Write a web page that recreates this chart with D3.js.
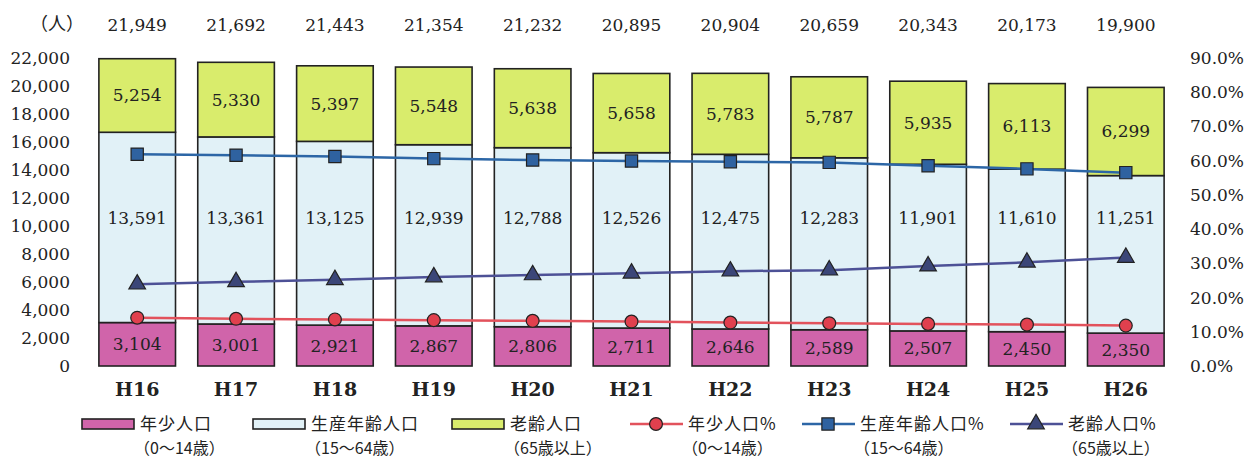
<!DOCTYPE html>
<html>
<head>
<meta charset="utf-8">
<script src="https://cdn.jsdelivr.net/npm/d3@7"></script>
<style>
body{margin:0;background:#fff;}
svg text{font-family:"DejaVu Serif","Liberation Serif",serif;fill:#222;}
.jp{font-family:"Noto Sans CJK JP",sans-serif;}
</style>
</head>
<body>
<svg id="chart" width="1250" height="459"></svg>
<script>

// ===============================
// DATA
// ===============================

const years=["H16","H17","H18","H19","H20","H21","H22","H23","H24","H25","H26"];

const young=[3104,3001,2921,2867,2806,2711,2646,2589,2507,2450,2350];

const working=[13591,13361,13125,12939,12788,12526,12475,12283,11901,11610,11251];

const elderly=[5254,5330,5397,5548,5638,5658,5783,5787,5935,6113,6299];

const totals=[21949,21692,21443,21354,21232,20895,20904,20659,20343,20173,19900];

const youngPct=[14.1,13.8,13.6,13.4,13.2,13.0,12.7,12.5,12.3,12.1,11.8];

const workingPct=[61.9,61.6,61.2,60.6,60.2,59.9,59.7,59.5,58.5,57.6,56.5];

const elderlyPct=[23.9,24.6,25.2,26.0,26.6,27.1,27.7,28.0,29.2,30.3,31.7];

const leftTicks=[0,2000,4000,6000,8000,10000,12000,14000,16000,18000,20000,22000];

const rightTicks=[0,10,20,30,40,50,60,70,80,90];

// ===============================
// SCALES
// ===============================

const svg=d3.select("#chart");

const x=d3.scaleBand()
    .domain(years)
    .range([89,1174])
    .paddingInner(0.225)
    .paddingOuter(0.1);

const y=d3.scaleLinear()
    .domain([0,22000])
    .range([366,58]);

const yPct=d3.scaleLinear()
    .domain([0,90])
    .range([366,58]);

const fmt=d3.format(",");

// ===============================
// AXES
// ===============================

const leftAxis=svg.append("g")
    .attr("transform","translate(72,0)")
    .call(d3.axisLeft(y).tickValues(leftTicks).tickFormat(fmt).tickSize(0).tickPadding(2));

leftAxis.select(".domain").remove();

leftAxis.selectAll("text").attr("font-size",17).attr("font-family","DejaVu Serif");

const rightAxis=svg.append("g")
    .attr("transform","translate(1188,0)")
    .call(d3.axisRight(yPct).tickValues(rightTicks).tickFormat(d=>d.toFixed(1)+"%").tickSize(0).tickPadding(2));

rightAxis.select(".domain").remove();

rightAxis.selectAll("text").attr("font-size",17).attr("font-family","DejaVu Serif");

svg.append("text")
    .attr("class","jp")
    .attr("x",57)
    .attr("y",30)
    .attr("text-anchor","middle")
    .attr("font-size",18)
    .text("（人）");

// ===============================
// STACKED BARS
// ===============================

const rows=years.map((yr,i)=>({year:yr,young:young[i],working:working[i],elderly:elderly[i]}));

const stack=d3.stack().keys(["young","working","elderly"]);

const series=stack(rows);

const colors={young:"#d064aa",working:"#e1f1f7",elderly:"#d9ec6c"};

svg.append("g")
    .selectAll("g")
    .data(series)
    .enter()
    .append("g")
    .attr("fill",d=>colors[d.key])
    .selectAll("rect")
    .data(d=>d)
    .enter()
    .append("rect")
    .attr("x",d=>x(d.data.year))
    .attr("y",d=>y(d[1]))
    .attr("width",x.bandwidth())
    .attr("height",d=>y(d[0])-y(d[1]))
    .attr("stroke","#222")
    .attr("stroke-width",1.6);

// segment labels
const labels=svg.append("g").attr("font-size",17).attr("text-anchor","middle");

series.forEach(s=>{

    labels.selectAll(null)
        .data(s)
        .enter()
        .append("text")
        .attr("x",d=>x(d.data.year)+x.bandwidth()/2)
        .attr("y",d=>s.key==="working" ? y(10600)+6 : (y(d[0])+y(d[1]))/2+6)
        .text(d=>fmt(d[1]-d[0]));

});

// totals
svg.append("g")
    .selectAll("text")
    .data(totals)
    .enter()
    .append("text")
    .attr("x",(d,i)=>x(years[i])+x.bandwidth()/2)
    .attr("y",31)
    .attr("text-anchor","middle")
    .attr("font-size",17)
    .text(d=>fmt(d));

// category labels
svg.append("g")
    .selectAll("text")
    .data(years)
    .enter()
    .append("text")
    .attr("x",d=>x(d)+x.bandwidth()/2)
    .attr("y",396)
    .attr("text-anchor","middle")
    .attr("font-size",19)
    .attr("font-family","Liberation Serif")
    .attr("font-weight","bold")
    .text(d=>d);

// ===============================
// PERCENT LINES
// ===============================

const lineGen=d3.line()
    .x((d,i)=>x(years[i])+x.bandwidth()/2)
    .y(d=>yPct(d));

const pctSeries=[
    {values:elderlyPct,line:"#4d5196",fill:"#3b4678",shape:d3.symbolTriangle,size:120},
    {values:workingPct,line:"#2c66a6",fill:"#2f62a0",shape:d3.symbolSquare,size:150},
    {values:youngPct,line:"#e2525c",fill:"#e0404e",shape:d3.symbolCircle,size:130}
];

pctSeries.forEach(s=>{

    svg.append("path")
        .datum(s.values)
        .attr("fill","none")
        .attr("stroke",s.line)
        .attr("stroke-width",2.5)
        .attr("d",lineGen);

    svg.append("g")
        .selectAll("path")
        .data(s.values)
        .enter()
        .append("path")
        .attr("transform",(d,i)=>`translate(${x(years[i])+x.bandwidth()/2},${yPct(d)})`)
        .attr("d",d3.symbol().type(s.shape).size(s.size))
        .attr("fill",s.fill)
        .attr("stroke","#222")
        .attr("stroke-width",1.2);

});

// ===============================
// LEGEND
// ===============================

const legendItems=[
    {name:"年少人口",sub:"（0～14歳）",kind:"box",color:"#d064aa",x:82},
    {name:"生産年齢人口",sub:"（15～64歳）",kind:"box",color:"#e1f1f7",x:253},
    {name:"老齢人口",sub:"（65歳以上）",kind:"box",color:"#d9ec6c",x:452},
    {name:"年少人口%",sub:"（0～14歳）",kind:"line",s:pctSeries[2],x:630},
    {name:"生産年齢人口%",sub:"（15～64歳）",kind:"line",s:pctSeries[1],x:802},
    {name:"老齢人口%",sub:"（65歳以上）",kind:"line",s:pctSeries[0],x:1010}
];

const legend=svg.append("g");

legendItems.forEach(item=>{

    const g=legend.append("g").attr("transform",`translate(${item.x},424)`);

    if(item.kind==="box"){

        g.append("rect")
            .attr("x",0).attr("y",-5)
            .attr("width",52).attr("height",10)
            .attr("fill",item.color)
            .attr("stroke","#222")
            .attr("stroke-width",1.6);

    }else{

        g.append("line")
            .attr("x1",0).attr("x2",53)
            .attr("y1",0).attr("y2",0)
            .attr("stroke",item.s.line)
            .attr("stroke-width",2.5);

        g.append("path")
            .attr("transform","translate(26,0)")
            .attr("d",d3.symbol().type(item.s.shape).size(item.s.size))
            .attr("fill",item.s.fill)
            .attr("stroke","#222")
            .attr("stroke-width",1.2);

    }

    g.append("text")
        .attr("class","jp")
        .attr("x",58)
        .attr("y",6)
        .attr("font-size",17)
        .attr("letter-spacing",1)
        .text(item.name);

    g.append("text")
        .attr("class","jp")
        .attr("x",52)
        .attr("y",30)
        .attr("font-size",16)
        .text(item.sub);

});

</script>
</body>
</html>
